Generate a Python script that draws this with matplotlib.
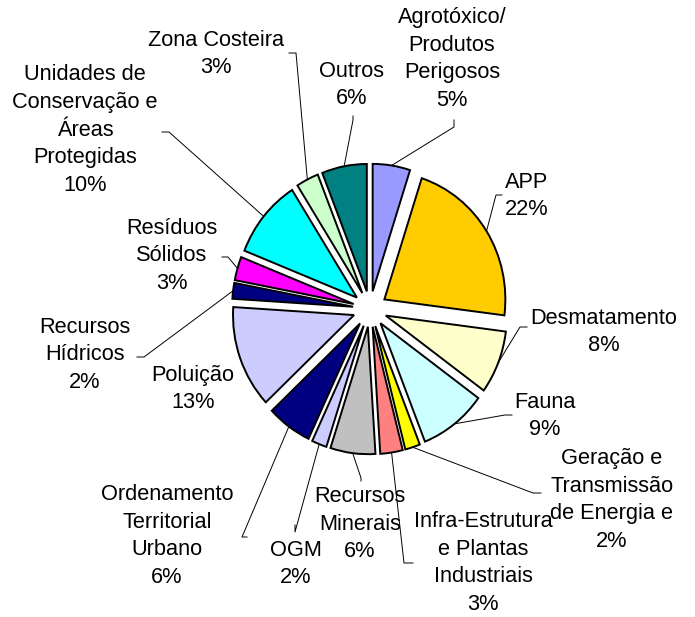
import numpy as np
import matplotlib.pyplot as plt

# dados do gráfico (fatias no sentido horário a partir do topo)
categorias = ["Agrotóxico/\nProdutos\nPerigosos", "APP", "Desmatamento", "Fauna",
              "Geração e\nTransmissão\nde Energia e", "Infra-Estrutura\ne Plantas\nIndustriais",
              "Recursos\nMinerais", "OGM", "Ordenamento\nTerritorial\nUrbano", "Poluição",
              "Recursos\nHídricos", "Resíduos\nSólidos",
              "Unidades de\nConservação e\nÁreas\nProtegidas", "Zona Costeira", "Outros"]
percentuais = [5, 22, 8, 9, 2, 3, 6, 2, 6, 13, 2, 3, 10, 3, 6]
cores = ["#9999FF", "#FFCC00", "#FFFFCC", "#CCFFFF", "#FFFF00", "#FF8080", "#C0C0C0",
         "#CCCCFF", "#000080", "#CCCCFF", "#000080", "#FF00FF", "#00FFFF", "#CCFFCC", "#008080"]

W, H = 695, 617
k = 1.053               # a pizza original é levemente achatada na horizontal
centro = (370, 309)     # pixel coords (y para baixo)
raio = 121
afastamento = 17        # deslocamento de cada fatia

# posição dos rótulos (centro do bloco de texto) e gancho da linha guia, em pixels
pos_rotulos = [(452, 59), (527, 196), (604, 332), (545, 416), (612, 500), (483, 563),
               (360, 524), (296, 564), (167, 536), (193, 389), (85, 355), (172, 256),
               (85, 130), (216, 54), (352, 85)]
ganchos = [[(454, 120), (454, 127)], [(502, 195), (496, 195)], [(527, 327), (520, 327)],
           [(512, 415), (505, 415)], [(541, 493), (533, 493)], [(413, 563), (404, 563)],
           [(361, 481), (361, 478)], [(295, 525), (295, 532)], [(247, 537), (242, 537)],
           None, [(137, 357), (144, 357)], [(222, 257), (228, 257)],
           [(162, 132), (169, 132)], [(289, 53), (296, 53)], [(353, 116), (353, 120)]]


def Y(y):
    return (H - y) / k


plt.rcParams['font.family'] = ['Liberation Sans', 'DejaVu Sans']
fig = plt.figure(figsize=(W / 100, H / 100), dpi=100)
ax = fig.add_axes([0, 0, 1, 1])

ax.pie(percentuais, colors=cores, startangle=90, counterclock=False,
       explode=[afastamento] * len(percentuais), radius=raio,
       center=(centro[0], Y(centro[1])),
       wedgeprops=dict(edgecolor='black', linewidth=1.4))

ax.set_xlim(0, W)
ax.set_ylim(0, H / k)
ax.set_aspect('auto')
ax.axis('off')

total = sum(percentuais)
acum = 0
for i, (cat, p) in enumerate(zip(categorias, percentuais)):
    meio = np.deg2rad(90 - 360 * (acum + p / 2) / total)
    acum += p
    x, y = pos_rotulos[i]
    ax.text(x, Y(y), f"{cat}\n{p}%", ha='center', va='center', fontsize=15.7,
            linespacing=1.41)
    if ganchos[i] is None:
        continue
    d = raio + afastamento
    px = centro[0] + d * np.cos(meio)
    py = Y(centro[1]) + d * np.sin(meio)
    (x0, y0), (x1, y1) = ganchos[i]
    ax.plot([x0, x1, px], [Y(y0), Y(y1), py], color='black', linewidth=0.7)

plt.savefig("out.png", dpi=100)
